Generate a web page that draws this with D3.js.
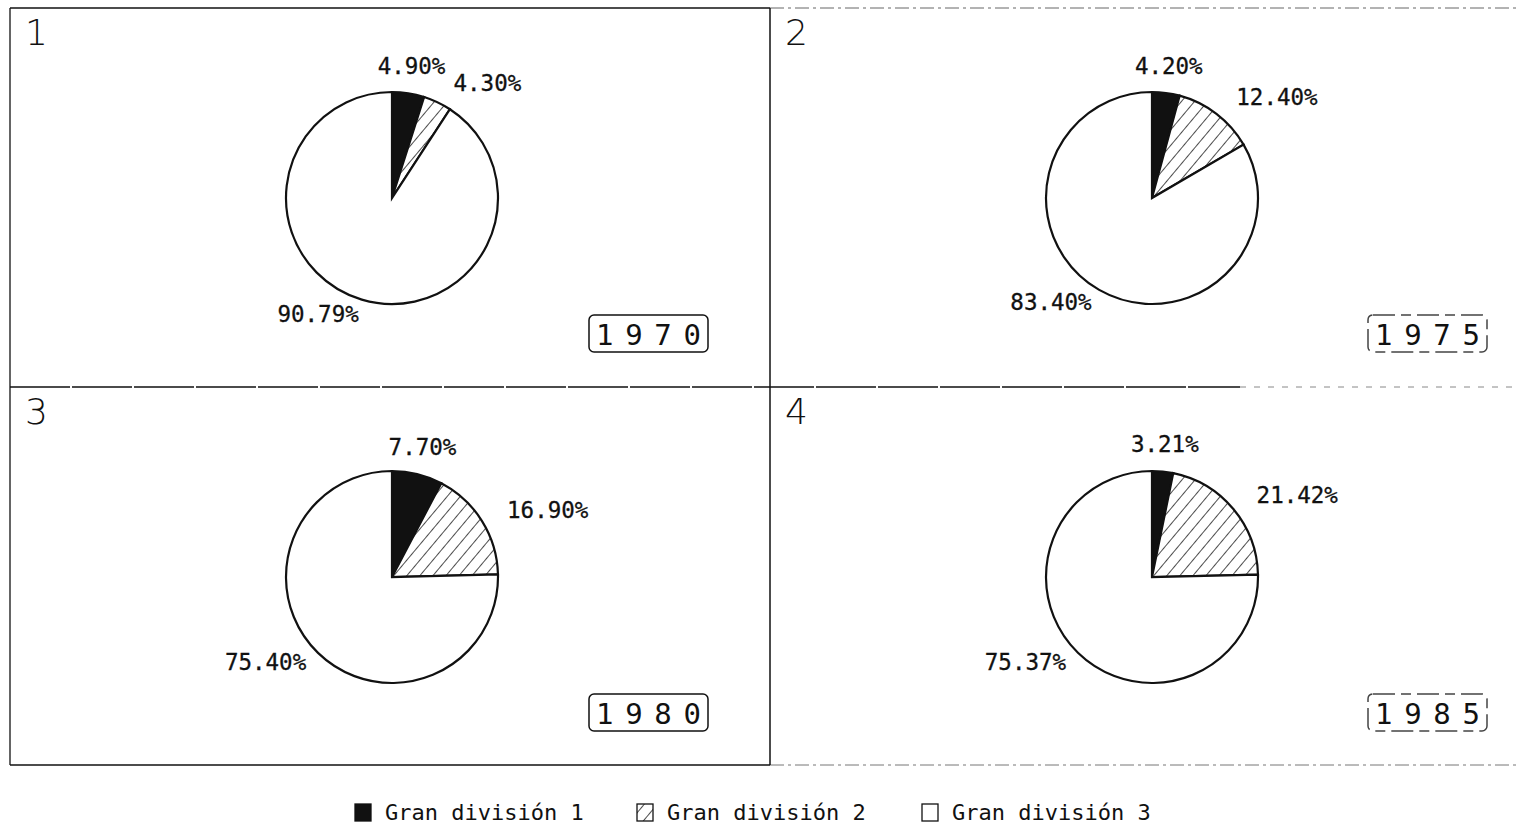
<!DOCTYPE html>
<html>
<head>
<meta charset="utf-8">
<script src="https://cdn.jsdelivr.net/npm/d3@7"></script>
<style>
  body { margin: 0; background: #fff; }
  svg { display: block; }
  .pct { font-family: "DejaVu Sans Mono", monospace; font-size: 22.5px; fill: #111; stroke: #111; stroke-width: 0.3px; }
  .year { font-family: "DejaVu Sans Mono", monospace; font-size: 29px; fill: #111; }
  .num { font-family: "DejaVu Sans", sans-serif; font-weight: 200; font-size: 36px; fill: #111; }
  .legend { font-family: "DejaVu Sans Mono", monospace; font-size: 22px; fill: #111; }
</style>
</head>
<body>
<div id="chart"></div>
<script>
// values
const panelNumbers = ["1", "2", "3", "4"];
const years = ["1970", "1975", "1980", "1985"];
const categories = ["Gran división 1", "Gran división 2", "Gran división 3"];
const division1 = [4.90, 4.20, 7.70, 3.21];
const division2 = [4.30, 12.40, 16.90, 21.42];
const division3 = [90.79, 83.40, 75.40, 75.37];

const width = 1520, height = 827;
const radius = 106;

const svg = d3.select("#chart").append("svg")
  .attr("width", width)
  .attr("height", height);

// hatch for the second division
const defs = svg.append("defs");
const pat = defs.append("pattern")
  .attr("id", "hatch")
  .attr("patternUnits", "userSpaceOnUse")
  .attr("width", 10).attr("height", 10)
  .attr("patternTransform", "rotate(40)");
pat.append("rect").attr("width", 10).attr("height", 10).attr("fill", "#fff");
pat.append("line")
  .attr("x1", 0).attr("y1", 0).attr("x2", 0).attr("y2", 10)
  .attr("stroke", "#111").attr("stroke-width", 1.5);

const fills = ["#111", "url(#hatch)", "#fff"];

const col = d3.scaleBand().domain([0, 1]).range([10, 1530]);
const row = d3.scaleBand().domain([0, 1]).range([8, 766]);

// frame lines
const frame = svg.append("g").attr("stroke", "#111").attr("fill", "none");
frame.append("line").attr("x1", 10).attr("x2", 770).attr("y1", 8).attr("y2", 8).attr("stroke-width", 1.5);
frame.append("line").attr("x1", 770).attr("x2", 1520).attr("y1", 8).attr("y2", 8)
  .attr("stroke", "#666").attr("stroke-dasharray", "14,4,3,4");
frame.append("line").attr("x1", 10).attr("x2", 1240).attr("y1", 387).attr("y2", 387).attr("stroke-width", 1.5)
  .attr("stroke-dasharray", "60,2");
frame.append("line").attr("x1", 1240).attr("x2", 1520).attr("y1", 387).attr("y2", 387)
  .attr("stroke", "#888").attr("stroke-dasharray", "6,8");
frame.append("line").attr("x1", 10).attr("x2", 770).attr("y1", 765).attr("y2", 765).attr("stroke-width", 1.5);
frame.append("line").attr("x1", 770).attr("x2", 1520).attr("y1", 765).attr("y2", 765)
  .attr("stroke", "#777").attr("stroke-dasharray", "14,4,3,4");
frame.append("line").attr("x1", 10).attr("x2", 10).attr("y1", 8).attr("y2", 765).attr("stroke-width", 1.3);
frame.append("line").attr("x1", 770).attr("x2", 770).attr("y1", 8).attr("y2", 765).attr("stroke-width", 1.5);

const pie = d3.pie().sort(null).value(d => d);
const arc = d3.arc().innerRadius(0).outerRadius(radius);
const labelArc = d3.arc().innerRadius(radius * 1.2).outerRadius(radius * 1.2);

const anchorOf = d => {
  const m = (d.startAngle + d.endAngle) / 2;
  if (m < 0.3) return "middle";
  return Math.sin(m) > 0 ? "start" : "end";
};

years.forEach((year, i) => {
  const c = i % 2, r = Math.floor(i / 2);
  const x0 = col(c), y0 = row(r);
  const g = svg.append("g");

  g.append("text").attr("class", "num")
    .attr("x", x0 + 15).attr("y", y0 + 37)
    .text(panelNumbers[i]);

  const values = [division1[i], division2[i], division3[i]];
  const cx = x0 + 382, cy = y0 + 190;
  const pg = g.append("g").attr("transform", `translate(${cx},${cy})`);
  const arcs = pie(values);

  pg.selectAll("path")
    .data(arcs)
    .enter().append("path")
    .attr("d", arc)
    .attr("fill", (d, k) => fills[k])
    .attr("stroke", "#111")
    .attr("stroke-width", 2.2);

  pg.selectAll("text")
    .data(arcs)
    .enter().append("text")
    .attr("class", "pct")
    .attr("transform", d => {
      const p = labelArc.centroid(d);
      const a = anchorOf(d);
      const dx = a === "start" ? 7 : a === "end" ? 3 : 0;
      const dy = a === "start" ? 0 : -6;
      return `translate(${p[0] + dx},${p[1] + dy})`;
    })
    .attr("dy", "0.35em")
    .attr("text-anchor", anchorOf)
    .text(d => d.value.toFixed(2) + "%");

  // year badge
  const bx = x0 + 579 + c * 19, by = y0 + 307;
  g.append("rect")
    .attr("x", bx).attr("y", by)
    .attr("width", 119).attr("height", 37)
    .attr("rx", 5)
    .attr("fill", "none")
    .attr("stroke", c === 0 ? "#111" : "#444")
    .attr("stroke-width", 1.5)
    .attr("stroke-dasharray", c === 0 ? null : "22,6,10,6");
  g.append("text").attr("class", "year")
    .attr("x", bx + 7).attr("y", by + 30)
    .attr("textLength", 105)
    .attr("lengthAdjust", "spacing")
    .text(year.split("").join(" "));
});

// legend
const legendX = [355, 637, 922];
const lg = svg.append("g");
categories.forEach((name, k) => {
  lg.append("rect")
    .attr("x", legendX[k]).attr("y", 804)
    .attr("width", 16).attr("height", 17)
    .attr("fill", fills[k])
    .attr("stroke", "#111").attr("stroke-width", 1.3);
  lg.append("text").attr("class", "legend")
    .attr("x", legendX[k] + 30).attr("y", 820)
    .text(name);
});
</script>
</body>
</html>
